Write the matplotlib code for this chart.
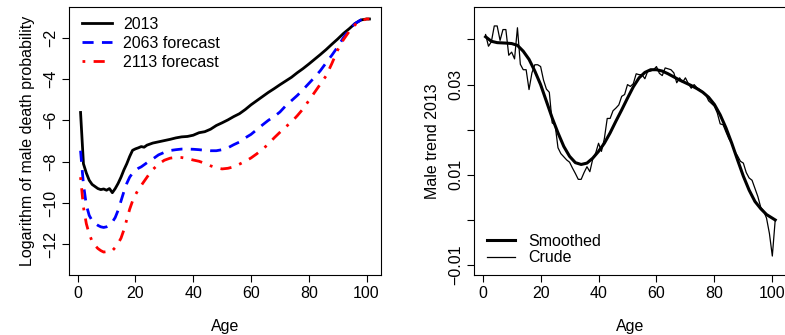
import matplotlib
matplotlib.use("Agg")
import matplotlib.pyplot as plt

plt.rcParams['font.family'] = ['Liberation Sans', 'DejaVu Sans']

# ---- left panel: log death probabilities ----
age_l = [1, 2, 3, 4, 5, 6, 7, 8, 9, 10, 11, 12, 13, 14, 15, 16, 17, 18, 19, 20,
         21, 22, 23, 24, 25, 26, 28, 30, 32, 34, 36, 38, 40, 42, 44, 46, 48, 50,
         52, 54, 56, 58, 60, 62, 64, 66, 68, 70, 72, 74, 76, 78, 80, 82, 84, 86,
         88, 90, 92, 94, 96, 98, 100, 101]

log_2013 = [-5.62, -8.10, -8.55, -8.90, -9.10, -9.20, -9.30, -9.35, -9.32, -9.38,
            -9.30, -9.50, -9.30, -9.05, -8.75, -8.40, -8.10, -7.75, -7.45, -7.38,
            -7.33, -7.27, -7.30, -7.20, -7.15, -7.10, -7.04, -6.98, -6.92, -6.85,
            -6.80, -6.78, -6.72, -6.60, -6.55, -6.43, -6.25, -6.12, -5.98, -5.82,
            -5.68, -5.48, -5.25, -5.05, -4.85, -4.65, -4.47, -4.28, -4.10, -3.92,
            -3.70, -3.50, -3.28, -3.05, -2.82, -2.58, -2.32, -2.07, -1.80, -1.57,
            -1.32, -1.15, -1.10, -1.10]

log_2063 = [-7.47, -9.10, -10.10, -10.60, -10.85, -10.98, -11.08, -11.15, -11.18, -11.15,
            -11.08, -10.92, -10.70, -10.35, -9.90, -9.45, -9.05, -8.75, -8.55, -8.42,
            -8.32, -8.25, -8.15, -8.05, -7.95, -7.87, -7.67, -7.55, -7.46, -7.42,
            -7.39, -7.39, -7.40, -7.42, -7.45, -7.47, -7.47, -7.42, -7.33, -7.18,
            -7.05, -6.85, -6.68, -6.45, -6.22, -6.00, -5.82, -5.60, -5.30, -5.05,
            -4.80, -4.52, -4.22, -3.92, -3.60, -3.22, -2.85, -2.45, -2.00, -1.62,
            -1.32, -1.15, -1.10, -1.10]

log_2113 = [-8.75, -10.20, -11.00, -11.50, -11.85, -12.05, -12.20, -12.30, -12.37, -12.35,
            -12.38, -12.30, -12.15, -11.95, -11.70, -11.30, -10.80, -10.30, -9.90, -9.60,
            -9.35, -9.15, -8.95, -8.75, -8.55, -8.38, -8.12, -7.93, -7.83, -7.79,
            -7.80, -7.85, -7.92, -7.98, -8.08, -8.20, -8.30, -8.35, -8.32, -8.25,
            -8.12, -7.98, -7.82, -7.62, -7.40, -7.15, -6.85, -6.58, -6.32, -6.08,
            -5.78, -5.45, -5.05, -4.65, -4.25, -3.85, -3.25, -2.60, -2.10, -1.70,
            -1.38, -1.18, -1.10, -1.10]

# ---- right panel: male trend 2013 ----
age_s = [1, 3, 5, 8, 10, 12, 14, 16, 18, 20, 22, 24, 26, 28, 30, 32, 34, 36, 38, 40,
         42, 44, 46, 48, 50, 52, 54, 56, 58, 60, 62, 64, 66, 68, 70, 72, 74, 76, 78,
         80, 82, 84, 86, 88, 90, 92, 94, 96, 98, 100, 101]
smoothed = [0.0406, 0.0396, 0.0393, 0.0392, 0.0391, 0.0387, 0.0374, 0.0356, 0.0330, 0.0300,
            0.0263, 0.0226, 0.0193, 0.0163, 0.0141, 0.0127, 0.0123, 0.0126, 0.0137, 0.0152,
            0.0170, 0.0193, 0.0219, 0.0244, 0.0270, 0.0295, 0.0315, 0.0327, 0.0333, 0.0333,
            0.0330, 0.0324, 0.0317, 0.0310, 0.0304, 0.0298, 0.0291, 0.0283, 0.0272, 0.0256,
            0.0233, 0.0204, 0.0170, 0.0133, 0.0097, 0.0066, 0.0041, 0.0025, 0.0012, 0.0004,
            0.0000]

age_c = list(range(1, 102))
crude = [0.0411, 0.0385, 0.0395, 0.0430, 0.0430, 0.0398, 0.0422, 0.0422, 0.0365, 0.0372,
         0.0357, 0.0426, 0.0345, 0.0333, 0.0333, 0.0289, 0.0326, 0.0344, 0.0344, 0.0340,
         0.0310, 0.0290, 0.0283, 0.0215, 0.0211, 0.0160, 0.0147, 0.0140, 0.0133, 0.0128,
         0.0115, 0.0103, 0.0090, 0.0090, 0.0105, 0.0118, 0.0107, 0.0135, 0.0148, 0.0170,
         0.0152, 0.0180, 0.0225, 0.0225, 0.0242, 0.0248, 0.0255, 0.0274, 0.0278, 0.0300,
         0.0296, 0.0302, 0.0324, 0.0322, 0.0322, 0.0313, 0.0330, 0.0330, 0.0333, 0.0340,
         0.0325, 0.0320, 0.0337, 0.0335, 0.0333, 0.0326, 0.0304, 0.0315, 0.0305, 0.0315,
         0.0302, 0.0292, 0.0300, 0.0293, 0.0289, 0.0284, 0.0278, 0.0264, 0.0258, 0.0252,
         0.0237, 0.0213, 0.0211, 0.0195, 0.0180, 0.0170, 0.0152, 0.0142, 0.0130, 0.0126,
         0.0105, 0.0093, 0.0088, 0.0070, 0.0052, 0.0028, 0.0020, 0.0004, -0.0030, -0.0080,
         0.0000]

right_yticks = [-0.01, 0.0, 0.01, 0.02, 0.03, 0.04]
right_ylabels = ["\u22120.01", "", "0.01", "", "0.03", ""]

# ===== FIGURE =====
fig = plt.figure(figsize=(7.85, 3.35), dpi=100)
ax1 = fig.add_axes([69 / 785, 60 / 335, 312 / 785, 268 / 335])
ax2 = fig.add_axes([474 / 785, 60 / 335, 312.8 / 785, 268 / 335])

fs = 11.5
for ax in (ax1, ax2):
    ax.tick_params(direction='out', length=5, width=0.8, labelsize=fs, pad=3)
    for sp in ax.spines.values():
        sp.set_linewidth(0.8)
    ax.set_xlim(-3, 105)
    ax.set_xticks([0, 20, 40, 60, 80, 100])
    ax.set_xlabel("Age", fontsize=fs, labelpad=13)

# left
ax1.plot(age_l, log_2013, color='black', lw=2, label="2013")
ax1.plot(age_l, log_2063, color='blue', lw=2, dashes=[4, 3], label="2063 forecast")
ax1.plot(age_l, log_2113, color='red', lw=2, dashes=[1, 3, 4, 3], label="2113 forecast")
ax1.set_ylim(-13.48, -0.52)
ax1.set_yticks([-12, -10, -8, -6, -4, -2])
ax1.set_yticklabels(["\u221212", "\u221210", "\u22128", "\u22126", "\u22124", "\u22122"],
                    rotation=90, va='center')
ax1.set_ylabel("Logarithm of male death probability", fontsize=fs, labelpad=6)
ax1.legend(loc='upper left', frameon=False, fontsize=fs, handlelength=1.9,
           handletextpad=0.7, labelspacing=0.25, borderaxespad=0.2,
           bbox_to_anchor=(0.01, 1.0))

# right
ax2.plot(age_s, smoothed, color='black', lw=2.2, label="Smoothed")
ax2.plot(age_c, crude, color='black', lw=0.9, label="Crude")
ax2.set_ylim(-0.0122, 0.0472)
ax2.set_yticks(right_yticks)
ax2.set_yticklabels(right_ylabels, rotation=90, va='center')
ax2.set_ylabel("Male trend 2013", fontsize=fs, labelpad=6)
ax2.legend(loc='lower left', frameon=False, fontsize=fs, handlelength=1.8,
           handletextpad=0.8, labelspacing=0.1, borderaxespad=0.2,
           bbox_to_anchor=(0.01, 0.0))

fig.savefig("out.png", dpi=100)
